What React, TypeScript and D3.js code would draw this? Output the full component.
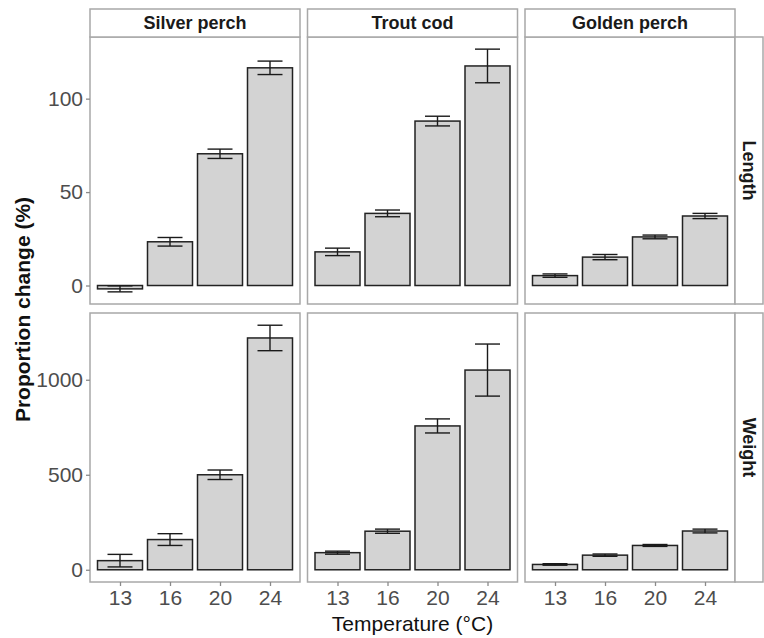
import { useEffect, useRef } from 'react';
import * as d3 from 'd3';

// facet labels and categories
const temperatures = ["13", "16", "20", "24"];
const species = ["Silver perch", "Trout cod", "Golden perch"];
const measures = ["Length", "Weight"];

// proportion change (%) and error, per species, per temperature
const lengthMean = [
    [-1.8, 23.4, 70.5, 116.5],
    [18, 38.6, 88, 117.5],
    [5.3, 15.2, 26, 37.2],
];
const lengthErr = [
    [1.6, 2.3, 2.5, 3.6],
    [2, 1.8, 2.6, 9],
    [0.9, 1.4, 1, 1.4],
];
const weightMean = [
    [48, 159, 500, 1220],
    [90, 203, 757, 1051],
    [28, 77, 128, 204],
];
const weightErr = [
    [33, 31, 25, 67],
    [8, 11, 37, 137],
    [4, 6, 5, 10],
];
const lengthTicks = [0, 50, 100];
const weightTicks = [0, 500, 1000];

export default function App() {
    const svgRef = useRef<SVGSVGElement>(null);

    useEffect(() => {
        if (!svgRef.current) return;
        const svg = d3.select(svgRef.current);
        svg.selectAll("*").remove();

        const width = 764;
        const height = 638;
        const font = "'Liberation Sans', Arial, Helvetica, sans-serif";

        // layout
        const panelLeft = 90;
        const panelW = 210;
        const panelGap = 7.5;
        const stripTop = 9;
        const stripH = 28;
        const rowTops = [37, 313];
        const rowBottoms = [304, 582];
        const rightStripW = 28;
        const borderColor = "#a8a8a8";

        svg.attr("width", width).attr("height", height)
            .attr("viewBox", [0, 0, width, height])
            .style("font-family", font);

        const rows = [
            { label: measures[0], mean: lengthMean, err: lengthErr, ticks: lengthTicks },
            { label: measures[1], mean: weightMean, err: weightErr, ticks: weightTicks },
        ];

        const colX = (c: number) => panelLeft + c * (panelW + panelGap);
        const panelRight = colX(species.length - 1) + panelW;

        rows.forEach((row, r) => {
            // y extent like ggplot: bars from 0, error bars, 5% expansion
            const lows: number[] = [0];
            const highs: number[] = [0];
            row.mean.forEach((arr, s) => arr.forEach((m, i) => {
                lows.push(m - row.err[s][i]);
                highs.push(m + row.err[s][i]);
            }));
            const lo = d3.min(lows) as number;
            const hi = d3.max(highs) as number;
            const pad = (hi - lo) * 0.05;
            const y = d3.scaleLinear()
                .domain([lo - pad, hi + pad])
                .range([rowBottoms[r], rowTops[r]]);

            species.forEach((sp, c) => {
                const x0 = colX(c);
                const x = d3.scalePoint<string>()
                    .domain(temperatures)
                    .range([x0, x0 + panelW])
                    .padding(0.6);
                const step = x.step();
                const g = svg.append("g");

                const data = temperatures.map((t, i) => ({
                    t, m: row.mean[c][i], e: row.err[c][i]
                }));

                // bars
                g.selectAll("rect.bar")
                    .data(data)
                    .join("rect")
                    .attr("class", "bar")
                    .attr("x", d => (x(d.t) as number) - step * 0.45)
                    .attr("width", step * 0.9)
                    .attr("y", d => Math.min(y(d.m), y(0)))
                    .attr("height", d => Math.abs(y(0) - y(d.m)))
                    .attr("fill", "#d3d3d3")
                    .attr("stroke", "#222")
                    .attr("stroke-width", 1.5);

                // error bars
                const eb = g.selectAll("g.err")
                    .data(data)
                    .join("g")
                    .attr("class", "err")
                    .attr("stroke", "#1a1a1a")
                    .attr("stroke-width", 1.4);
                eb.append("line")
                    .attr("x1", d => x(d.t) as number)
                    .attr("x2", d => x(d.t) as number)
                    .attr("y1", d => y(d.m - d.e))
                    .attr("y2", d => y(d.m + d.e));
                [-1, 1].forEach(sgn => {
                    eb.append("line")
                        .attr("x1", d => (x(d.t) as number) - step * 0.25)
                        .attr("x2", d => (x(d.t) as number) + step * 0.25)
                        .attr("y1", d => y(d.m + sgn * d.e))
                        .attr("y2", d => y(d.m + sgn * d.e));
                });

                // panel border
                g.append("rect")
                    .attr("x", x0)
                    .attr("y", rowTops[r])
                    .attr("width", panelW)
                    .attr("height", rowBottoms[r] - rowTops[r])
                    .attr("fill", "none")
                    .attr("stroke", borderColor)
                    .attr("stroke-width", 1.5);

                // top strips
                if (r === 0) {
                    g.append("rect")
                        .attr("x", x0)
                        .attr("y", stripTop)
                        .attr("width", panelW)
                        .attr("height", stripH)
                        .attr("fill", "white")
                        .attr("stroke", borderColor)
                        .attr("stroke-width", 1.5);
                    g.append("text")
                        .attr("x", x0 + panelW / 2)
                        .attr("y", stripTop + stripH / 2)
                        .attr("text-anchor", "middle")
                        .attr("dominant-baseline", "central")
                        .attr("font-weight", "bold")
                        .attr("font-size", 18)
                        .attr("fill", "#1a1a1a")
                        .text(sp);
                }

                // x axis on bottom row
                if (r === rows.length - 1) {
                    const xa = svg.append("g")
                        .attr("transform", `translate(0,${rowBottoms[r]})`)
                        .call(d3.axisBottom(x).tickSize(4).tickPadding(4))
                        .call(a => a.select(".domain").remove());
                    xa.selectAll("line").attr("stroke", "#8a8a8a").attr("stroke-width", 1.3);
                    xa.selectAll("text")
                        .attr("fill", "#4d4d4d")
                        .style("font-size", "21px")
                        .style("font-family", font);
                }

                // y axis on first column
                if (c === 0) {
                    const ya = svg.append("g")
                        .attr("transform", `translate(${x0},0)`)
                        .call(d3.axisLeft(y).tickValues(row.ticks).tickFormat(d3.format("d")).tickSize(4).tickPadding(3))
                        .call(a => a.select(".domain").remove());
                    ya.selectAll("line").attr("stroke", "#8a8a8a").attr("stroke-width", 1.3);
                    ya.selectAll("text")
                        .attr("fill", "#4d4d4d")
                        .style("font-size", "21px")
                        .style("font-family", font);
                }
            });

            // right strip
            const rs = svg.append("g");
            rs.append("rect")
                .attr("x", panelRight)
                .attr("y", rowTops[r])
                .attr("width", rightStripW)
                .attr("height", rowBottoms[r] - rowTops[r])
                .attr("fill", "white")
                .attr("stroke", borderColor)
                .attr("stroke-width", 1.5);
            rs.append("text")
                .attr("transform", `translate(${panelRight + rightStripW / 2},${(rowTops[r] + rowBottoms[r]) / 2}) rotate(90)`)
                .attr("text-anchor", "middle")
                .attr("dominant-baseline", "central")
                .attr("font-weight", "bold")
                .attr("font-size", 18)
                .attr("fill", "#1a1a1a")
                .text(row.label);
        });

        // axis titles
        svg.append("text")
            .attr("x", (panelLeft + panelRight) / 2)
            .attr("y", 631)
            .attr("text-anchor", "middle")
            .attr("font-size", 21)
            .attr("fill", "#111")
            .text("Temperature (°C)");

        svg.append("text")
            .attr("transform", `translate(30,${(rowTops[0] + rowBottoms[1]) / 2}) rotate(-90)`)
            .attr("text-anchor", "middle")
            .attr("font-size", 21)
            .attr("font-weight", "bold")
            .attr("fill", "#111")
            .text("Proportion change (%)");
    }, []);

    return (
        <svg ref={svgRef} style={{ position: "absolute", left: 0, top: 0, background: "white" }}></svg>
    );
}
